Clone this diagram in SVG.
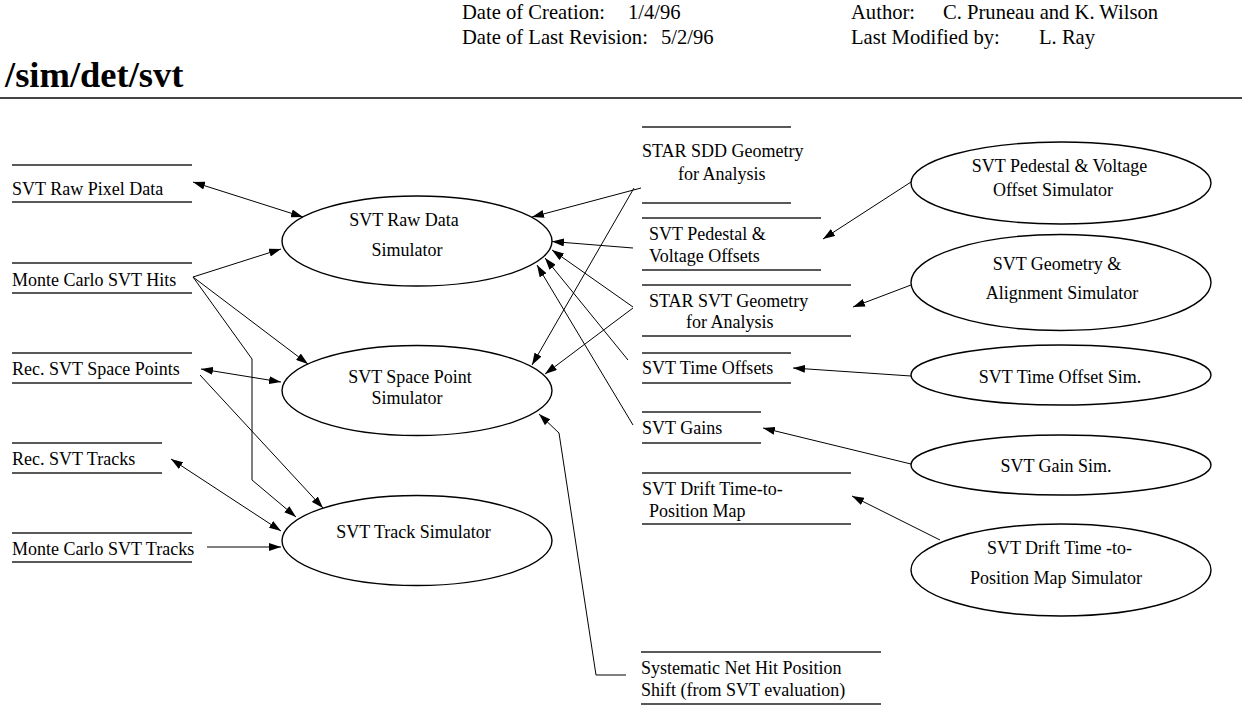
<svg xmlns="http://www.w3.org/2000/svg" width="1242" height="706" viewBox="0 0 1242 706">
  <style>
    text { font-family: "Liberation Serif", "Times New Roman", serif; font-size: 18px; fill: #000; }
    .title { font-size: 36.5px; font-weight: bold; }
    .hdr { font-size: 20.6px; }
    .mid { text-anchor: middle; }
    .store line { stroke: #222; stroke-width: 1.4; }
    .proc ellipse { fill: none; stroke: #000; stroke-width: 1.4; }
    #connectors line, #connectors polyline { stroke: #000; stroke-width: 1; fill: none; }
    .a { marker-end: url(#arrow); }
    .aa { marker-start: url(#arrow); marker-end: url(#arrow); }
  </style>
  <defs>
    <marker id="arrow" viewBox="0 0 12 8" refX="12" refY="4" markerWidth="12" markerHeight="8" markerUnits="userSpaceOnUse" orient="auto-start-reverse">
      <path d="M0,0 L12,4 L0,8 z" fill="#000"/>
    </marker>
  </defs>
  <rect width="1242" height="706" fill="#fff"/>

  <!-- page header -->
  <g id="header">
    <text class="title" x="5" y="87">/sim/det/svt</text>
    <text class="hdr" x="462" y="19">Date of Creation:</text>
    <text class="hdr" x="628" y="19">1/4/96</text>
    <text class="hdr" x="462" y="44">Date of Last Revision:</text>
    <text class="hdr" x="661" y="44">5/2/96</text>
    <text class="hdr" x="851" y="19">Author:</text>
    <text class="hdr" x="943" y="19">C. Pruneau and K. Wilson</text>
    <text class="hdr" x="851" y="44">Last Modified by:</text>
    <text class="hdr" x="1039" y="44">L. Ray</text>
    <line x1="0" y1="98" x2="1242" y2="98" stroke="#444" stroke-width="1.8"/>
  </g>

  <!-- data stores, left column -->
  <g id="store-raw-pixel" class="store">
    <line x1="12" y1="165" x2="192" y2="165"/><line x1="12" y1="202" x2="192" y2="202"/>
    <text x="12" y="195">SVT Raw Pixel Data</text>
  </g>
  <g id="store-mc-hits" class="store">
    <line x1="12" y1="263" x2="192" y2="263"/><line x1="12" y1="293" x2="192" y2="293"/>
    <text x="12" y="286">Monte Carlo SVT Hits</text>
  </g>
  <g id="store-rec-space-points" class="store">
    <line x1="12" y1="353" x2="192" y2="353"/><line x1="12" y1="383" x2="192" y2="383"/>
    <text x="12" y="375">Rec. SVT Space Points</text>
  </g>
  <g id="store-rec-tracks" class="store">
    <line x1="12" y1="443" x2="162" y2="443"/><line x1="12" y1="473" x2="162" y2="473"/>
    <text x="12" y="465">Rec. SVT Tracks</text>
  </g>
  <g id="store-mc-tracks" class="store">
    <line x1="12" y1="533" x2="192" y2="533"/><line x1="12" y1="562" x2="192" y2="562"/>
    <text x="12" y="555">Monte Carlo SVT Tracks</text>
  </g>

  <!-- data stores, right column -->
  <g id="store-sdd-geometry" class="store">
    <line x1="642" y1="127" x2="791" y2="127"/><line x1="642" y1="203" x2="791" y2="203"/>
    <text x="642" y="157">STAR SDD Geometry</text>
    <text x="678" y="180">for Analysis</text>
  </g>
  <g id="store-pedestal" class="store">
    <line x1="642" y1="218" x2="821" y2="218"/><line x1="642" y1="270" x2="821" y2="270"/>
    <text x="649" y="240">SVT Pedestal &amp;</text>
    <text x="649" y="262">Voltage Offsets</text>
  </g>
  <g id="store-svt-geometry" class="store">
    <line x1="642" y1="285" x2="851" y2="285"/><line x1="642" y1="336" x2="851" y2="336"/>
    <text x="649" y="307">STAR SVT Geometry</text>
    <text x="686" y="328">for Analysis</text>
  </g>
  <g id="store-time-offsets" class="store">
    <line x1="642" y1="353" x2="791" y2="353"/><line x1="642" y1="383" x2="791" y2="383"/>
    <text x="642" y="374">SVT Time Offsets</text>
  </g>
  <g id="store-gains" class="store">
    <line x1="642" y1="412" x2="761" y2="412"/><line x1="642" y1="443" x2="761" y2="443"/>
    <text x="642" y="434">SVT Gains</text>
  </g>
  <g id="store-drift-map" class="store">
    <line x1="642" y1="473" x2="851" y2="473"/><line x1="642" y1="524" x2="851" y2="524"/>
    <text x="642" y="495">SVT Drift Time-to-</text>
    <text x="649" y="517">Position Map</text>
  </g>
  <g id="store-hit-shift" class="store">
    <line x1="641" y1="652" x2="881" y2="652"/><line x1="641" y1="704" x2="881" y2="704"/>
    <text x="641" y="674">Systematic Net Hit Position</text>
    <text x="641" y="696">Shift (from SVT evaluation)</text>
  </g>

  <!-- processes -->
  <g id="proc-raw-data" class="proc">
    <ellipse cx="417" cy="241" rx="135" ry="45"/>
    <text class="mid" x="404" y="226">SVT Raw Data</text>
    <text class="mid" x="407" y="256">Simulator</text>
  </g>
  <g id="proc-space-point" class="proc">
    <ellipse cx="417" cy="390.5" rx="135" ry="45"/>
    <text class="mid" x="410" y="383">SVT Space Point</text>
    <text class="mid" x="407" y="404">Simulator</text>
  </g>
  <g id="proc-track" class="proc">
    <ellipse cx="417" cy="540.5" rx="135" ry="45"/>
    <text class="mid" x="413.5" y="538">SVT Track Simulator</text>
  </g>
  <g id="proc-pedestal-sim" class="proc">
    <ellipse cx="1061" cy="183" rx="150" ry="41"/>
    <text class="mid" x="1059.5" y="172">SVT Pedestal &amp; Voltage</text>
    <text class="mid" x="1053" y="196">Offset Simulator</text>
  </g>
  <g id="proc-geometry-sim" class="proc">
    <ellipse cx="1061" cy="282.5" rx="150" ry="48"/>
    <text class="mid" x="1057" y="270">SVT Geometry &amp;</text>
    <text class="mid" x="1062" y="299">Alignment Simulator</text>
  </g>
  <g id="proc-time-offset-sim" class="proc">
    <ellipse cx="1061" cy="375" rx="150" ry="30"/>
    <text class="mid" x="1060" y="383">SVT Time Offset Sim.</text>
  </g>
  <g id="proc-gain-sim" class="proc">
    <ellipse cx="1061" cy="465" rx="150" ry="30"/>
    <text class="mid" x="1056" y="472">SVT Gain Sim.</text>
  </g>
  <g id="proc-drift-sim" class="proc">
    <ellipse cx="1061" cy="570" rx="150" ry="46"/>
    <text class="mid" x="1059.5" y="554">SVT Drift Time -to-</text>
    <text class="mid" x="1056" y="584">Position Map Simulator</text>
  </g>

  <!-- data flows -->
  <g id="connectors">
    <line class="aa" x1="193" y1="182" x2="303" y2="217"/>
    <line class="a" x1="193" y1="277" x2="281" y2="249"/>
    <line class="a" x1="193" y1="277" x2="308" y2="364"/>
    <polyline class="a" points="193,277 252,359 252,480 296,517"/>
    <line class="aa" x1="201" y1="369" x2="281" y2="382"/>
    <line class="a" x1="200" y1="375" x2="323" y2="508"/>
    <line class="aa" x1="171" y1="459" x2="281" y2="531"/>
    <line class="a" x1="207" y1="547" x2="281" y2="547"/>

    <line class="a" x1="641" y1="188" x2="532" y2="217"/>
    <line class="a" x1="634" y1="188" x2="532" y2="365"/>
    <line class="a" x1="633" y1="248" x2="552" y2="241.5"/>
    <line class="a" x1="633" y1="307" x2="552" y2="250"/>
    <line class="a" x1="633" y1="308" x2="545" y2="374"/>
    <line class="a" x1="628" y1="360" x2="545" y2="258"/>
    <line class="a" x1="633" y1="425" x2="537" y2="265"/>
    <polyline class="a" points="626,675 596,675 559,433 539,414"/>

    <line class="a" x1="911" y1="182" x2="823" y2="239"/>
    <line class="a" x1="911" y1="285" x2="853" y2="307"/>
    <line class="a" x1="911" y1="376" x2="793" y2="368"/>
    <line class="a" x1="911" y1="464" x2="763" y2="428"/>
    <line class="a" x1="940" y1="540" x2="852" y2="496"/>
  </g>
</svg>
